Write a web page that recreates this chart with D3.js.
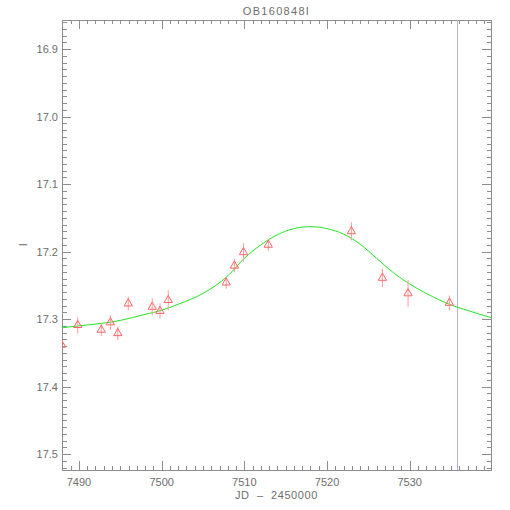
<!DOCTYPE html>
<html>
<head>
<meta charset="utf-8">
<script src="https://cdn.jsdelivr.net/npm/d3@7"></script>
<style>
  body { margin: 0; background: #fff; }
  text { font-family: 'Liberation Sans', Arial, sans-serif; fill: #6e6e6e; }
</style>
</head>
<body>
<div id="chart"></div>
<script>
// observed photometry (JD - 2450000, I mag, error)
const jd = [7487.9, 7489.85, 7492.7, 7493.8, 7494.7, 7495.96, 7498.86, 7499.8, 7500.8,
  7507.8, 7508.8, 7509.9, 7512.9, 7522.95, 7526.7, 7529.8, 7534.8];
const mag = [17.338, 17.309, 17.316, 17.305, 17.321, 17.277, 17.282, 17.288, 17.272,
  17.246, 17.221, 17.201, 17.190, 17.170, 17.239, 17.262, 17.276];
const err = [0.010, 0.012, 0.009, 0.011, 0.010, 0.010, 0.013, 0.011, 0.015,
  0.009, 0.010, 0.0135, 0.009, 0.0135, 0.0135, 0.020, 0.011];

// model curve
const modelJd = [7487.9, 7490, 7493, 7495, 7498, 7500, 7502, 7505, 7508, 7510, 7512, 7514,
  7516, 7518, 7520, 7522, 7524, 7526, 7528, 7530, 7532, 7535, 7538, 7539.9];
const modelMag = [17.313, 17.310, 17.306, 17.302, 17.293, 17.287, 17.278, 17.262, 17.236, 17.210, 17.190, 17.175,
  17.166, 17.163, 17.166, 17.174, 17.189, 17.210, 17.231, 17.248, 17.262, 17.279, 17.291, 17.298];

const markerJd = 7535.7; // vertical line
const xTicks = [7490, 7500, 7510, 7520, 7530];
const yTicks = [16.9, 17.0, 17.1, 17.2, 17.3, 17.4, 17.5];

const width = 510, height = 510;
const plotLeft = 62, plotRight = 491, plotTop = 19.5, plotBottom = 470;
const majorLen = 9, minorLen = 4.5;

const x = d3.scaleLinear().domain([7487.95, 7539.83]).range([plotLeft, plotRight]);
const y = d3.scaleLinear().domain([16.856, 17.5237]).range([plotTop, plotBottom]);

const svg = d3.select('#chart')
  .append('svg')
  .attr('width', width)
  .attr('height', height);

svg.append('clipPath')
  .attr('id', 'plot-clip')
  .append('rect')
  .attr('x', plotLeft).attr('y', plotTop)
  .attr('width', plotRight - plotLeft).attr('height', plotBottom - plotTop);

const axisColor = '#8c8c8c';

// frame
svg.append('rect')
  .attr('x', plotLeft + 0.5).attr('y', Math.round(plotTop) + 0.5)
  .attr('width', plotRight - plotLeft).attr('height', plotBottom - Math.round(plotTop))
  .attr('fill', 'none')
  .attr('stroke', axisColor)
  .attr('shape-rendering', 'crispEdges');

// ticks on all four sides, pointing inward
const xMinor = d3.range(7488, 7540, 1);
const yMinor = d3.range(0, 67).map(i => +(16.86 + i * 0.01).toFixed(2));
const isMajorX = v => v % 10 === 0;
const isMajorY = v => Math.abs(v * 10 - Math.round(v * 10)) < 1e-6;

const ticks = svg.append('g')
  .attr('stroke', axisColor)
  .attr('shape-rendering', 'crispEdges');

xMinor.forEach(v => {
  const len = isMajorX(v) ? majorLen : minorLen;
  const px = Math.round(x(v)) + 0.5;
  ticks.append('line').attr('x1', px).attr('x2', px).attr('y1', plotBottom).attr('y2', plotBottom - len);
  ticks.append('line').attr('x1', px).attr('x2', px).attr('y1', plotTop).attr('y2', plotTop + len);
});

yMinor.filter(v => y(v) > plotTop && y(v) < plotBottom).forEach(v => {
  const len = isMajorY(v) ? majorLen : minorLen;
  const py = Math.round(y(v)) + 0.5;
  ticks.append('line').attr('y1', py).attr('y2', py).attr('x1', plotLeft).attr('x2', plotLeft + len);
  ticks.append('line').attr('y1', py).attr('y2', py).attr('x1', plotRight).attr('x2', plotRight - len);
});

// tick labels
svg.append('g')
  .selectAll('text')
  .data(xTicks)
  .enter()
  .append('text')
  .attr('x', d => x(d))
  .attr('y', 486)
  .attr('text-anchor', 'middle')
  .attr('font-size', 11)
  .text(d => d);

svg.append('g')
  .selectAll('text')
  .data(yTicks)
  .enter()
  .append('text')
  .attr('x', 58)
  .attr('y', d => y(d) + 4)
  .attr('text-anchor', 'end')
  .attr('font-size', 11)
  .text(d => d.toFixed(1));

// titles
svg.append('text')
  .attr('x', (plotLeft + plotRight) / 2)
  .attr('y', 14.5)
  .attr('text-anchor', 'middle')
  .attr('font-size', 11)
  .attr('letter-spacing', 1.3)
  .text('OB160848I');

svg.append('text')
  .attr('x', (plotLeft + plotRight) / 2)
  .attr('y', 499)
  .attr('text-anchor', 'middle')
  .attr('font-size', 11)
  .attr('letter-spacing', 0.6)
  .attr('xml:space', 'preserve')
  .text('JD  \u2013  2450000');

svg.append('text')
  .attr('transform', 'translate(27,' + ((plotTop + plotBottom) / 2) + ') rotate(-90)')
  .attr('text-anchor', 'middle')
  .attr('font-size', 11)
  .text('I');

const plot = svg.append('g').attr('clip-path', 'url(#plot-clip)');

// vertical marker line
plot.append('line')
  .attr('x1', Math.round(x(markerJd)) + 0.5).attr('x2', Math.round(x(markerJd)) + 0.5)
  .attr('y1', plotTop).attr('y2', plotBottom)
  .attr('stroke', '#b0b0e0')
  .attr('stroke-width', 1);

// model curve
const line = d3.line()
  .x(d => x(d[0]))
  .y(d => y(d[1]))
  .curve(d3.curveMonotoneX);

plot.append('path')
  .datum(d3.zip(modelJd, modelMag))
  .attr('d', line)
  .attr('fill', 'none')
  .attr('stroke', '#22e622')
  .attr('stroke-width', 1);

// data points with error bars
const pts = jd.map((d, i) => ({ t: d, m: mag[i], e: err[i] }));

plot.append('g')
  .selectAll('line')
  .data(pts)
  .enter()
  .append('line')
  .attr('x1', d => x(d.t)).attr('x2', d => x(d.t))
  .attr('y1', d => y(d.m - d.e)).attr('y2', d => y(d.m + d.e))
  .attr('stroke', '#ff9a9a')
  .attr('stroke-width', 1);

plot.append('g')
  .selectAll('path')
  .data(pts)
  .enter()
  .append('path')
  .attr('transform', d => 'translate(' + x(d.t) + ',' + y(d.m) + ')')
  .attr('d', d3.symbol(d3.symbolTriangle, 30))
  .attr('fill', 'none')
  .attr('stroke', '#ff6464')
  .attr('stroke-width', 1);
</script>
</body>
</html>
